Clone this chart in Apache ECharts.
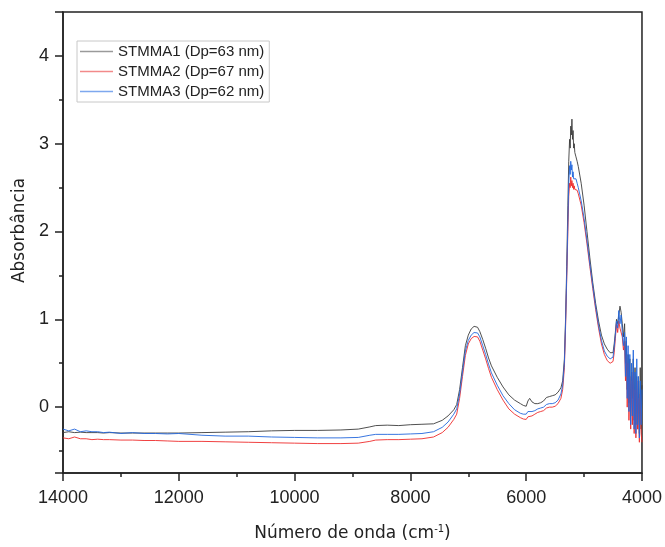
<!DOCTYPE html>
<html>
<head>
<meta charset="utf-8">
<script src="https://cdn.jsdelivr.net/npm/echarts@6/dist/echarts.min.js"></script>
<style>
	html, body { margin: 0; padding: 0; background: #fff; }
	#chart { width: 665px; height: 547px; }
</style>
</head>
<body>
<div id="chart"></div>
<script>
// wavenumber (cm-1), shared by the three spectra
var wavenumber = [
	14000, 13900, 13800, 13700, 13600, 13500, 13400, 13300, 13200, 13000,
	12800, 12600, 12400, 12200, 12000, 11600, 11200, 10800, 10400, 10000,
	9600, 9200, 8900, 8700, 8600, 8400, 8200, 8000, 7800, 7600,
	7450, 7350, 7250, 7200, 7150, 7100, 7050, 7000, 6950, 6900,
	6870, 6840, 6800, 6750, 6700, 6650, 6600, 6500, 6400, 6300,
	6200, 6100, 6050, 6000, 5970, 5940, 5900, 5850, 5800, 5750,
	5700, 5650, 5600, 5550, 5500, 5450, 5400, 5370, 5340, 5320,
	5300, 5280, 5265, 5250, 5240, 5230, 5220, 5210, 5200, 5190,
	5180, 5170, 5160, 5140, 5120, 5100, 5050, 5000, 4950, 4900,
	4850, 4800, 4750, 4700, 4650, 4600, 4550, 4520, 4500, 4480,
	4460, 4440, 4420, 4400, 4380, 4360, 4340, 4320, 4300, 4285,
	4270, 4255, 4240, 4225, 4210, 4195, 4180, 4165, 4150, 4135,
	4120, 4105, 4090, 4075, 4060, 4045, 4030, 4015, 4000
];

var stmma1 = [
	-0.29, -0.28, -0.29, -0.285, -0.29, -0.29, -0.29, -0.295, -0.29, -0.295,
	-0.295, -0.295, -0.295, -0.295, -0.295, -0.29, -0.285, -0.28, -0.27, -0.265,
	-0.265, -0.26, -0.25, -0.225, -0.21, -0.205, -0.21, -0.2, -0.195, -0.19,
	-0.15, -0.1, -0.03, 0.03, 0.2, 0.45, 0.7, 0.82, 0.89, 0.92,
	0.925, 0.91, 0.86, 0.77, 0.67, 0.56, 0.47, 0.34, 0.23, 0.14,
	0.08, 0.04, 0.02, 0.01, 0.07, 0.10, 0.06, 0.04, 0.04, 0.05,
	0.07, 0.11, 0.12, 0.13, 0.14, 0.17, 0.22, 0.3, 0.55, 1.0,
	1.6, 2.3, 2.8, 3.05, 2.95, 3.2, 3.1, 3.28, 3.05, 3.15,
	2.95, 3.0, 2.9, 2.85, 2.8, 2.74, 2.55, 2.3, 2.0, 1.7,
	1.42, 1.18, 0.98, 0.82, 0.72, 0.66, 0.62, 0.6, 0.62, 0.72,
	0.85, 1.0, 0.95, 1.05, 1.15, 1.08, 0.95, 0.8, 0.95, 0.5,
	0.75, 0.2, 0.6, 0.05, 0.55, -0.1, 0.4, 0.1, 0.55, -0.15,
	0.45, -0.2, 0.35, -0.25, 0.3, -0.3, 0.45, -0.25, 0.25
];

var stmma2 = [
	-0.35, -0.36, -0.34, -0.36, -0.36, -0.37, -0.365, -0.37, -0.37, -0.375,
	-0.375, -0.38, -0.38, -0.385, -0.39, -0.39, -0.395, -0.4, -0.405, -0.41,
	-0.415, -0.415, -0.41, -0.39, -0.375, -0.37, -0.37, -0.365, -0.36, -0.34,
	-0.29, -0.23, -0.14, -0.08, 0.1, 0.35, 0.59, 0.72, 0.78, 0.805,
	0.81, 0.8, 0.75, 0.65, 0.55, 0.44, 0.34, 0.2, 0.08, -0.02,
	-0.08, -0.12, -0.135, -0.14, -0.11, -0.1, -0.1, -0.08, -0.06, -0.05,
	-0.04, -0.01, 0.0, 0.0, 0.01, 0.04, 0.1, 0.2, 0.45, 0.9,
	1.45, 2.0, 2.4, 2.55, 2.5, 2.62, 2.52, 2.58, 2.5, 2.55,
	2.48, 2.52, 2.48, 2.5, 2.47, 2.43, 2.3, 2.1, 1.86, 1.6,
	1.35, 1.11, 0.9, 0.72, 0.6, 0.53, 0.5, 0.49, 0.52, 0.62,
	0.78, 0.95, 0.85, 0.98, 0.9, 0.92, 0.8, 0.65, 0.75, 0.3,
	0.6, 0.0, 0.5, -0.15, 0.35, -0.25, 0.3, -0.2, 0.4, -0.3,
	0.2, -0.35, 0.3, -0.25, 0.1, -0.4, 0.15, -0.3, -0.4
];

var stmma3 = [
	-0.25, -0.27, -0.25, -0.28, -0.27, -0.28, -0.28, -0.29, -0.285, -0.3,
	-0.29, -0.3, -0.3, -0.305, -0.3, -0.32, -0.33, -0.33, -0.34, -0.345,
	-0.35, -0.35, -0.345, -0.32, -0.31, -0.31, -0.31, -0.305, -0.3, -0.28,
	-0.23, -0.17, -0.08, -0.02, 0.15, 0.4, 0.64, 0.76, 0.82, 0.85,
	0.855, 0.845, 0.8, 0.7, 0.6, 0.49, 0.39, 0.25, 0.13, 0.04,
	-0.03, -0.07, -0.08, -0.08, -0.05, -0.04, -0.05, -0.04, -0.02, -0.01,
	0.0, 0.03, 0.04, 0.04, 0.05, 0.08, 0.15, 0.25, 0.5, 0.95,
	1.5, 2.1, 2.55, 2.75, 2.65, 2.8, 2.7, 2.76, 2.62, 2.68,
	2.6, 2.62, 2.58, 2.6, 2.55, 2.5, 2.35, 2.15, 1.9, 1.63,
	1.38, 1.14, 0.93, 0.76, 0.64, 0.58, 0.55, 0.54, 0.57, 0.68,
	0.82, 0.98, 0.9, 1.1, 0.95, 1.05, 0.85, 0.7, 0.85, 0.35,
	0.8, 0.1, 0.7, -0.05, 0.6, -0.2, 0.5, -0.1, 0.65, -0.25,
	0.4, -0.3, 0.55, -0.2, 0.35, -0.35, 0.3, -0.2, 0.2
];

var seriesNames = ['STMMA1 (Dp=63 nm)', 'STMMA2 (Dp=67 nm)', 'STMMA3 (Dp=62 nm)'];
var seriesColors = ['#3c3c3c', '#ee2b2b', '#2266dd'];
var legendColors = ['#9a9a9a', '#f28a8a', '#7ea8ee'];

function pairs(ys) {
	var res = [];
	for (var i = 0; i < wavenumber.length; i++) {
		res.push([wavenumber[i], ys[i]]);
	}
	return res;
}

var chart = echarts.init(document.getElementById('chart'));

var labelFont = 'Liberation Sans, Arial, sans-serif';
var titleFont = 'DejaVu Sans, sans-serif';

var legendData = [];
for (var k = 0; k < seriesNames.length; k++) {
	legendData.push({ name: seriesNames[k], itemStyle: { color: legendColors[k] } });
}

var option = {
	animation: false,
	backgroundColor: '#fff',
	color: seriesColors,
	grid: {
		left: 63,
		right: 22,
		top: 12,
		bottom: 70,
		show: true,
		borderColor: '#222',
		borderWidth: 1.5
	},
	legend: {
		data: legendData,
		orient: 'vertical',
		left: 77,
		top: 41,
		icon: 'rect',
		itemWidth: 33,
		itemHeight: 1.5,
		itemGap: 5,
		padding: [3, 5, 3, 3],
		borderColor: '#c8c8c8',
		borderWidth: 1,
		textStyle: {
			fontFamily: labelFont,
			fontSize: 15,
			color: '#222'
		}
	},
	xAxis: {
		type: 'value',
		inverse: true,
		min: 4000,
		max: 14000,
		interval: 2000,
		name: 'Número de onda (cm{sup|-1})',
		nameLocation: 'middle',
		nameGap: 51,
		nameTextStyle: {
			fontFamily: titleFont,
			fontSize: 17,
			color: '#222',
			rich: {
				sup: { fontFamily: titleFont, fontSize: 10, color: '#222', padding: [0, 0, 9, 0] }
			}
		},
		axisLine: { show: true, onZero: false, lineStyle: { color: '#222', width: 1.5 } },
		axisTick: { show: true, inside: false, length: 8, lineStyle: { color: '#222', width: 1.5 } },
		minorTick: { show: true, splitNumber: 2, length: 4, lineStyle: { color: '#222', width: 1.5 } },
		axisLabel: {
			fontFamily: labelFont,
			fontSize: 18,
			color: '#222',
			margin: 16,
			formatter: function(v) { return String(v); }
		},
		splitLine: { show: false }
	},
	yAxis: [{
		type: 'value',
		min: -0.75,
		max: 4.5,
		splitNumber: 5,
		name: 'Absorbância',
		nameLocation: 'middle',
		nameGap: 34,
		nameTextStyle: {
			fontFamily: titleFont,
			fontSize: 17,
			color: '#222',
			padding: [0, 0, 0, 24]
		},
		axisLine: { show: true, onZero: false, lineStyle: { color: '#222', width: 1.5 } },
		axisTick: { show: true, inside: false, length: 8, lineStyle: { color: '#222', width: 1.5 } },
		axisLabel: {
			fontFamily: labelFont,
			fontSize: 18,
			color: '#222',
			margin: 14,
			formatter: function(v) {
				return Math.abs(v - Math.round(v)) < 1e-6 ? String(Math.round(v)) : '';
			}
		},
		splitLine: { show: false }
	}, {
		// helper axis only for the half-unit minor ticks (value + 0.5)
		type: 'value',
		position: 'left',
		min: -0.25,
		max: 5.0,
		splitNumber: 5,
		axisLine: { show: false },
		axisTick: { show: true, inside: false, length: 4, lineStyle: { color: '#222', width: 1.5 } },
		axisLabel: { show: false },
		splitLine: { show: false }
	}],
	series: []
};

var allData = [stmma1, stmma2, stmma3];
for (var s = 0; s < allData.length; s++) {
	option.series.push({
		name: seriesNames[s],
		type: 'line',
		yAxisIndex: 0,
		data: pairs(allData[s]),
		showSymbol: false,
		symbol: 'none',
		itemStyle: { color: seriesColors[s] },
		lineStyle: { width: 0.9, color: seriesColors[s] }
	});
}

chart.setOption(option);
</script>
</body>
</html>
